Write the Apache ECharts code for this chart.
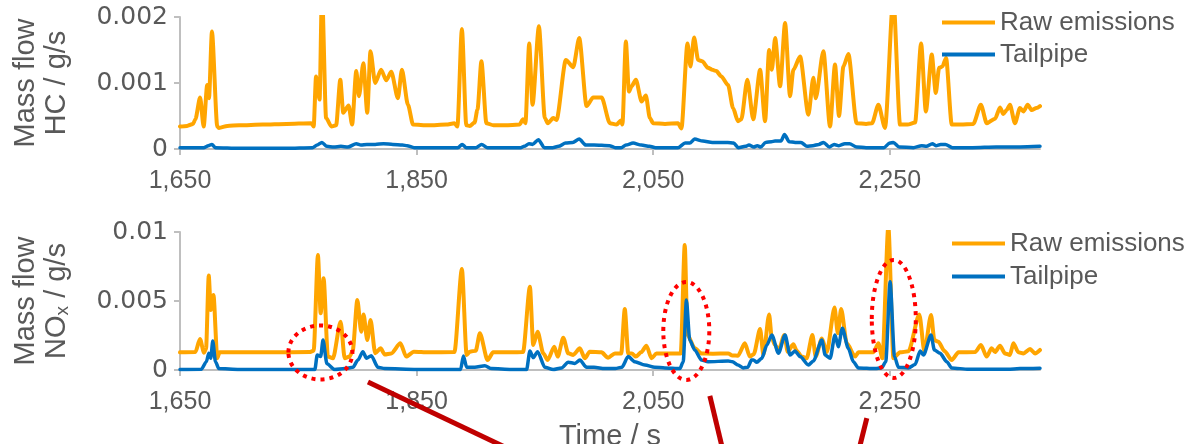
<!DOCTYPE html>
<html>
<head>
<meta charset="utf-8">
<script src="https://cdn.jsdelivr.net/npm/echarts@6/dist/echarts.min.js"></script>
<style>
  html, body { margin: 0; padding: 0; background: #ffffff; }
  #chart { width: 1196px; height: 444px; }
</style>
</head>
<body>
<div id="chart"></div>
<script>
// Time axis (s)
const timeTicks = [1650, 1850, 2050, 2250];

// HC mass flow, raw (engine-out) emissions: time / g/s
const hcRawT = [1650, 1656, 1661, 1663, 1667, 1670, 1673, 1674.5, 1677, 1681.5, 1683, 1690, 1700, 1720, 1740, 1761, 1763, 1765, 1768, 1770, 1773.5, 1778, 1782, 1785.5, 1788, 1792.5, 1795.5, 1799, 1801.3, 1805, 1808.3, 1811, 1815, 1820, 1824.4, 1828.6, 1834.2, 1837.6, 1842.7, 1847, 1860, 1875, 1882, 1884.5, 1888.3, 1892, 1895, 1899, 1901.5, 1904.8, 1909, 1915, 1925, 1937, 1940, 1942, 1945.2, 1948, 1953.4, 1958.4, 1961, 1965.5, 1968.3, 1976.2, 1982.4, 1987.5, 1993.7, 1999.3, 2006.4, 2013.4, 2019, 2022.7, 2024, 2026.9, 2029.5, 2031.7, 2035.4, 2040.2, 2043.8, 2047.2, 2050, 2060, 2071, 2073.9, 2079, 2081.5, 2084.6, 2088, 2091.4, 2096.4, 2100, 2103.4, 2107.6, 2113.3, 2117.5, 2121.7, 2124.5, 2129.6, 2134.6, 2140.4, 2144.6, 2148, 2150.3, 2153.1, 2157.3, 2161.5, 2165.7, 2168.5, 2174.2, 2181.2, 2185.4, 2187.4, 2193.9, 2199.5, 2203.7, 2207.1, 2210.8, 2215, 2222, 2230, 2235, 2240.4, 2246, 2253, 2258.7, 2265, 2271.4, 2276.5, 2280.5, 2285.5, 2288.9, 2291.7, 2294.5, 2297.6, 2302.4, 2310, 2320.6, 2327, 2332, 2339, 2343.2, 2346, 2348.8, 2351.6, 2355.8, 2360, 2363, 2366.6, 2370, 2374, 2377];
const hcRawV = [0.00034, 0.00035, 0.00038, 0.00045, 0.00078, 0.00034, 0.00097, 0.00077, 0.00178, 0.00034, 0.00032, 0.00035, 0.00036, 0.00037, 0.00038, 0.00039, 0.00034, 0.0011, 0.00075, 0.0024, 0.00047, 0.00034, 0.00036, 0.00105, 0.00055, 0.00066, 0.00037, 0.00118, 0.0008, 0.0013, 0.00055, 0.00148, 0.001, 0.0012, 0.00104, 0.00117, 0.00077, 0.0012, 0.00067, 0.00037, 0.00036, 0.00037, 0.00039, 0.00034, 0.00182, 0.00036, 0.00035, 0.0004, 0.0006, 0.00133, 0.00039, 0.00036, 0.00036, 0.00037, 0.00045, 0.00039, 0.0016, 0.00067, 0.00186, 0.00047, 0.00039, 0.00047, 0.00044, 0.00135, 0.00124, 0.00168, 0.00065, 0.00078, 0.00078, 0.00039, 0.00037, 0.00043, 0.00037, 0.00163, 0.00087, 0.00095, 0.00105, 0.00072, 0.00081, 0.00047, 0.00039, 0.00038, 0.00039, 0.00031, 0.0016, 0.00125, 0.00169, 0.00135, 0.00133, 0.00123, 0.0012, 0.00118, 0.0011, 0.00097, 0.00062, 0.00042, 0.00045, 0.00105, 0.00045, 0.0012, 0.00042, 0.0015, 0.0012, 0.00168, 0.00095, 0.00191, 0.0008, 0.0012, 0.0014, 0.00052, 0.00108, 0.00077, 0.00148, 0.00034, 0.00128, 0.0005, 0.00125, 0.00144, 0.00039, 0.00038, 0.00039, 0.00067, 0.00032, 0.0023, 0.00037, 0.00037, 0.0004, 0.0016, 0.00057, 0.00143, 0.00085, 0.00123, 0.00125, 0.00138, 0.00037, 0.00037, 0.00038, 0.00067, 0.00039, 0.00046, 0.00063, 0.00053, 0.00059, 0.00067, 0.00039, 0.00062, 0.00057, 0.00067, 0.00059, 0.00062, 0.00065];

// HC mass flow at the tailpipe
const hcTailT = [1650, 1670, 1674, 1677, 1680, 1700, 1740, 1762, 1766, 1770, 1774, 1780, 1786, 1792, 1799, 1803, 1808, 1815, 1822, 1830, 1838, 1842, 1848, 1870, 1885, 1888.5, 1892, 1900, 1905, 1910, 1938, 1941, 1945, 1948, 1953, 1958, 1965, 1970, 1976, 1982, 1987.5, 1993, 2000, 2013, 2018, 2023, 2027, 2033, 2040, 2047, 2052, 2071, 2077, 2081, 2085, 2092, 2100, 2113, 2118, 2122, 2128, 2131, 2135, 2138, 2141, 2145, 2150, 2153, 2158, 2161, 2165, 2170, 2175, 2180, 2185, 2190, 2194, 2199, 2203, 2207, 2212, 2216, 2222, 2230, 2245, 2250, 2253, 2258, 2270, 2277, 2281, 2286, 2289, 2293, 2297, 2303, 2320, 2340, 2360, 2377];
const hcTailV = [0.00002, 0.00002, 0.00005, 0.00007, 0.00002, 0.00001, 0.00001, 0.00002, 0.00006, 0.0001, 0.00004, 0.00003, 0.00004, 0.00003, 0.00008, 0.00006, 0.00007, 0.00007, 0.00008, 0.00007, 0.00006, 0.00005, 0.00002, 0.00002, 0.00002, 0.00007, 0.00002, 0.00002, 0.00007, 0.00002, 0.00002, 0.00004, 0.00008, 0.00007, 0.00014, 0.00002, 0.00002, 0.00004, 0.00009, 0.0001, 0.00015, 0.00006, 0.00006, 0.00005, 0.00002, 0.00002, 0.00006, 0.00009, 0.00006, 0.00004, 0.00002, 0.00002, 0.00009, 0.00009, 0.00015, 0.00012, 0.0001, 0.0001, 0.00009, 0.00002, 0.00004, 0.00006, 0.00003, 0.00005, 0.00003, 0.0001, 0.00011, 0.00012, 0.00012, 0.00022, 0.00011, 0.0001, 0.0001, 0.00004, 0.00005, 0.00007, 0.0001, 0.00003, 0.00007, 0.00005, 0.00008, 0.00008, 0.00003, 0.00002, 0.00002, 0.00009, 0.0001, 0.00003, 0.00002, 0.00005, 0.00004, 0.00008, 0.00005, 0.00007, 0.00007, 0.00002, 0.00002, 0.00003, 0.00003, 0.00004];

// NOx mass flow, raw (engine-out) emissions
const noxRawT = [1650, 1663, 1666.9, 1670.3, 1672, 1674.3, 1676, 1678.3, 1681.5, 1683.4, 1700, 1730, 1759.6, 1763, 1766.6, 1768.9, 1771.4, 1775, 1779.3, 1785.8, 1789.2, 1793.4, 1796, 1799.9, 1803.2, 1805.2, 1808.3, 1811.1, 1815, 1819.6, 1823, 1828.6, 1836.3, 1841.2, 1847.7, 1860, 1882, 1888.3, 1892.3, 1895, 1900, 1903.5, 1910, 1914.7, 1930, 1940, 1945.8, 1948.6, 1952.3, 1957.1, 1960.8, 1966.4, 1969.3, 1974, 1978.2, 1982.4, 1988, 1992.2, 1996.4, 2006.3, 2011.9, 2017.6, 2023, 2026, 2028.9, 2032, 2035.4, 2040, 2044.3, 2048.6, 2052.8, 2073.3, 2076.7, 2079, 2085.2, 2090.8, 2100, 2113.4, 2117, 2121.7, 2127.5, 2131.7, 2135, 2140.4, 2143.2, 2148, 2150.3, 2153.1, 2155.9, 2160.9, 2163.7, 2168.5, 2171.3, 2175.5, 2179.8, 2184.6, 2187.4, 2192.6, 2196.8, 2203.3, 2206.1, 2208.9, 2213.7, 2220.7, 2223.5, 2236.2, 2240.4, 2243.8, 2248.8, 2253.1, 2258.7, 2265.8, 2275, 2279.3, 2284.9, 2287.7, 2291.1, 2296.2, 2302.4, 2308.1, 2322.2, 2327.1, 2331.9, 2336.1, 2339, 2343.2, 2347.4, 2351.6, 2354.5, 2358.7, 2362.9, 2368.6, 2372.8, 2377];
const noxRawV = [0.00128, 0.0013, 0.00225, 0.00125, 0.0015, 0.00684, 0.00435, 0.00543, 0.00085, 0.00128, 0.00128, 0.00128, 0.0013, 0.0014, 0.00833, 0.00411, 0.00664, 0.00097, 0.00085, 0.0035, 0.00085, 0.00097, 0.0014, 0.00507, 0.00278, 0.00403, 0.00217, 0.00362, 0.00121, 0.00157, 0.00113, 0.0012, 0.00193, 0.00097, 0.00133, 0.00128, 0.0013, 0.00732, 0.00109, 0.00133, 0.0014, 0.00266, 0.00072, 0.00128, 0.00128, 0.0013, 0.00604, 0.00181, 0.00278, 0.00121, 0.00072, 0.00169, 0.00097, 0.00234, 0.00121, 0.00109, 0.00157, 0.00085, 0.00133, 0.00128, 0.00089, 0.0012, 0.0012, 0.00442, 0.0012, 0.0012, 0.00097, 0.0013, 0.00176, 0.00085, 0.0012, 0.0012, 0.00906, 0.00254, 0.00157, 0.0012, 0.00118, 0.0012, 0.00105, 0.00104, 0.00193, 0.00097, 0.00115, 0.00297, 0.00109, 0.00403, 0.00229, 0.00181, 0.0014, 0.00254, 0.00133, 0.00186, 0.0014, 0.00097, 0.00085, 0.00254, 0.00097, 0.00229, 0.0013, 0.00452, 0.00266, 0.00442, 0.00193, 0.00097, 0.00128, 0.00128, 0.00193, 0.00085, 0.0104, 0.00085, 0.00128, 0.00135, 0.00403, 0.00133, 0.00399, 0.00217, 0.00205, 0.00138, 0.00072, 0.00128, 0.0013, 0.00181, 0.00097, 0.00157, 0.0013, 0.00176, 0.0012, 0.00109, 0.00193, 0.00128, 0.0012, 0.00152, 0.0012, 0.00145];

// NOx mass flow at the tailpipe
const noxTailT = [1650, 1668, 1672.3, 1674.3, 1676, 1677.7, 1680, 1682.8, 1700, 1764, 1766, 1768.9, 1770.9, 1774.2, 1780.8, 1789.2, 1796.2, 1800.4, 1804.6, 1807.7, 1811.7, 1817.3, 1823, 1850, 1887.2, 1889.6, 1892.3, 1899.2, 1907.7, 1913.4, 1930, 1943, 1945.8, 1948.6, 1952.3, 1958.4, 1965.5, 1972.5, 1978.2, 1983.8, 1988, 1993.7, 2000, 2009.1, 2018, 2023.5, 2028.9, 2034.5, 2043, 2051.4, 2059.9, 2072.6, 2075.4, 2078.1, 2080.9, 2085.2, 2090.8, 2096.4, 2113.4, 2117, 2121.7, 2126, 2130, 2133.1, 2134.8, 2137.6, 2141.8, 2146.1, 2150.3, 2155.9, 2161.5, 2165.7, 2169.9, 2174.2, 2181.2, 2185.4, 2192.6, 2195.4, 2199.6, 2203.7, 2206.5, 2209.9, 2215, 2219.2, 2223.5, 2237.6, 2243.2, 2246.6, 2250.3, 2254, 2257.3, 2265.8, 2271.4, 2275.7, 2278.5, 2284.9, 2287.7, 2292.5, 2298.2, 2302.4, 2316.5, 2350, 2360, 2377];
const noxTailV = [0.00003, 0.00005, 0.0006, 0.00121, 0.00085, 0.0021, 0.0006, 0.0001, 0.00003, 0.00003, 0.00109, 0.00097, 0.00217, 0.00045, 0.00003, 0.0001, 0.0002, 0.00072, 0.00133, 0.00085, 0.00104, 0.0002, 0.0001, 0.00003, 0.00003, 0.00101, 0.0002, 0.0002, 0.00031, 0.0001, 0.00003, 0.00003, 0.00138, 0.0009, 0.00133, 0.0002, 0.00003, 0.00015, 0.00056, 0.00048, 0.00072, 0.0002, 0.0002, 0.0001, 0.0001, 0.0002, 0.00097, 0.0006, 0.00036, 0.0002, 0.00015, 0.0001, 0.0006, 0.00507, 0.00217, 0.00145, 0.00072, 0.0006, 0.00065, 0.0006, 0.00036, 0.00015, 0.0002, 0.00072, 0.00072, 0.00056, 0.00085, 0.00181, 0.00254, 0.00121, 0.00254, 0.00109, 0.00138, 0.00097, 0.00036, 0.00065, 0.00217, 0.00109, 0.00085, 0.00254, 0.00169, 0.00302, 0.00157, 0.0006, 0.00015, 0.0001, 0.00015, 0.0006, 0.0064, 0.00097, 0.0002, 0.00015, 0.0004, 0.00138, 0.00109, 0.00254, 0.00145, 0.00121, 0.0006, 0.00015, 0.00005, 0.00005, 0.0001, 0.00013];

// Highlighted NOx events (centre in data units) and the callout strokes leading away from them
const highlightCentres = [[1768.7, 0.00127], [2078, 0.00283], [2253.4, 0.0037]];
const highlightRadii = [[32, 27], [23, 49], [22, 59]];
const callouts = [
  [[1808.9, -0.00087], [1937.3, -0.0061]],
  [[2097.9, -0.00188], [2109.7, -0.0061]],
  [[2230.6, -0.00348], [2223.0, -0.0061]]
];

const ORANGE = '#FFA500';
const BLUE = '#0070C0';
const GREY_TEXT = '#595959';
const AXIS_GREY = '#BFBFBF';
const FONT = '"Liberation Sans", Arial, sans-serif';
const WIDE_FONT = '"DejaVu Sans", "Liberation Sans", sans-serif';

function zip(t, v) { return t.map((x, i) => [x, v[i]]); }
function thousands(v) { return String(v).replace(/\B(?=(\d{3})+(?!\d))/g, ','); }

const chart = echarts.init(document.getElementById('chart'), null, { renderer: 'canvas' });

function xAxisDef(gridIndex, withName) {
  return {
    type: 'value', gridIndex: gridIndex, min: 1650, max: 2377,
    axisLine: { show: true, onZero: false, lineStyle: { color: AXIS_GREY, width: 2 } },
    axisTick: { show: true, length: 6, customValues: timeTicks, lineStyle: { color: AXIS_GREY, width: 2 } },
    axisLabel: { customValues: timeTicks, formatter: thousands, color: GREY_TEXT, fontSize: 25, fontFamily: FONT, margin: 20 },
    splitLine: { show: false },
    name: withName ? 'Time / s' : '', nameLocation: 'middle', nameGap: 52,
    nameTextStyle: { color: GREY_TEXT, fontSize: 29, fontFamily: FONT }
  };
}

function yAxisDef(gridIndex, max, interval, name) {
  return {
    type: 'value', gridIndex: gridIndex, min: 0, max: max, interval: interval,
    axisLine: { show: true, lineStyle: { color: AXIS_GREY, width: 2 } },
    axisTick: { show: true, length: 6, lineStyle: { color: AXIS_GREY, width: 2 } },
    axisLabel: { color: GREY_TEXT, fontSize: 25, fontFamily: WIDE_FONT, margin: 12 },
    splitLine: { show: false },
    name: name, nameLocation: 'middle', nameRotate: 90, nameGap: 108,
    nameTextStyle: {
      color: GREY_TEXT, fontSize: 29, fontFamily: FONT, lineHeight: 31, align: 'center',
      rich: {
        n: { color: GREY_TEXT, fontSize: 29, fontFamily: FONT, lineHeight: 31 },
        s: { color: GREY_TEXT, fontSize: 19, fontFamily: FONT, lineHeight: 31, verticalAlign: 'bottom' }
      }
    }
  };
}

function lineSeries(name, xi, t, v, color, width, z) {
  return {
    name: name, type: 'line', xAxisIndex: xi, yAxisIndex: xi,
    data: zip(t, v), showSymbol: false, symbol: 'none',
    smooth: 0.25, smoothMonotone: 'x', clip: true,
    lineStyle: { color: color, width: width, join: 'round', cap: 'round' },
    itemStyle: { color: color }, z: z, animation: false
  };
}

function legendDef(left, top, gap) {
  return {
    orient: 'vertical', left: left, top: top, icon: 'rect', itemWidth: 53, itemHeight: 4,
    itemGap: gap, itemTextGap: 5, padding: 0,
    data: ['Raw emissions', 'Tailpipe'],
    textStyle: { color: GREY_TEXT, fontSize: 26, fontFamily: FONT, lineHeight: 27 }
  };
}

chart.setOption({
  backgroundColor: '#ffffff',
  animation: false,
  grid: [
    { left: 180, top: 17, width: 860, height: 132, containLabel: false, outerBoundsMode: 'none' },
    { left: 180, top: 232, width: 860, height: 138, containLabel: false, outerBoundsMode: 'none' }
  ],
  legend: [legendDef(942, 9, 5), legendDef(952, 230, 6)],
  xAxis: [xAxisDef(0, false), xAxisDef(1, true)],
  yAxis: [
    yAxisDef(0, 0.002, 0.001, 'Mass flow\nHC / g/s'),
    yAxisDef(1, 0.01, 0.005, 'Mass flow\n{n|NO}{s|x}{n| / g/s}')
  ],
  series: [
    lineSeries('Raw emissions', 0, hcRawT, hcRawV, ORANGE, 4, 2),
    lineSeries('Tailpipe', 0, hcTailT, hcTailV, BLUE, 3.5, 3),
    lineSeries('Raw emissions', 1, noxRawT, noxRawV, ORANGE, 4, 2),
    lineSeries('Tailpipe', 1, noxTailT, noxTailV, BLUE, 3.5, 3)
  ]
});

// Annotations in the lower panel: dotted rings round the highlighted events and the callout strokes
function toPx(p) { return chart.convertToPixel({ xAxisIndex: 1, yAxisIndex: 1 }, p); }
const graphics = [];
callouts.forEach(function (c) {
  const a = toPx(c[0]), b = toPx(c[1]);
  graphics.push({
    type: 'line', z: 20, silent: true,
    shape: { x1: a[0], y1: a[1], x2: b[0], y2: b[1] },
    style: { stroke: '#C00000', lineWidth: 5 }
  });
});
highlightCentres.forEach(function (c, i) {
  const p = toPx(c);
  graphics.push({
    type: 'ellipse', z: 21, silent: true,
    shape: { cx: p[0], cy: p[1], rx: highlightRadii[i][0], ry: highlightRadii[i][1] },
    style: { fill: 'none', stroke: '#FF0000', lineWidth: 4, lineDash: [4, 5] }
  });
});
chart.setOption({ graphic: graphics });
</script>
</body>
</html>
